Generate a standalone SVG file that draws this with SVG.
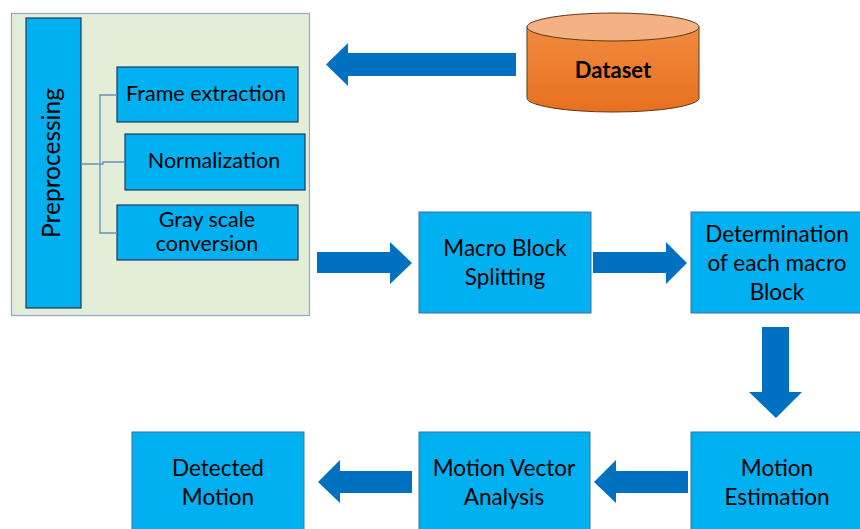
<svg xmlns="http://www.w3.org/2000/svg" width="860" height="529" viewBox="0 0 860 529">
  <defs>
    <linearGradient id="cylBody" x1="0" y1="0" x2="0" y2="1">
      <stop offset="0" stop-color="#F08A3E"/>
      <stop offset="1" stop-color="#E8701F"/>
    </linearGradient>
    <style>
      .box { fill: #00B0F0; stroke: #41719C; stroke-width: 1; }
      .dark { fill: #00B0F0; stroke: #1F3A5A; stroke-width: 1.2; }
      .lbl { font-family: Lato, "Liberation Sans", sans-serif; font-size: 22.5px; fill: #000; text-anchor: middle; }
      .sm { font-size: 21.5px; }
      .arrow { fill: #0070C0; }
      .tree { fill: none; stroke: #6A8FB8; stroke-width: 1.3; }
    </style>
  </defs>

  <rect width="860" height="529" fill="#FFFFFF"/>

  <!-- Preprocessing panel -->
  <g id="preprocessing">
    <rect x="11.5" y="13.5" width="298" height="302" fill="#E3EED9" stroke="#8EA9C9" stroke-width="1.2"/>
    <rect class="dark" x="26" y="18" width="55" height="290"/>
    <text class="lbl" transform="translate(60,163) rotate(-90)" style="font-size:24.5px">Preprocessing</text>
  </g>

  <g id="frame-extraction">
    <rect class="dark" x="117" y="67" width="181" height="55"/>
    <text class="lbl sm" x="206" y="101">Frame extraction</text>
  </g>

  <g id="normalization">
    <rect class="dark" x="125" y="134" width="180" height="56"/>
    <text class="lbl sm" x="214" y="168">Normalization</text>
  </g>

  <g id="gray-scale">
    <rect class="dark" x="117" y="205" width="181" height="55"/>
    <text class="lbl sm" x="207" y="227">Gray scale</text>
    <text class="lbl sm" x="207" y="251">conversion</text>
  </g>

  <!-- Dataset cylinder -->
  <g id="dataset">
    <path d="M527,27 L527,98 A86,14 0 0 0 699,98 L699,27 Z" fill="url(#cylBody)" stroke="#5A3A1A" stroke-width="1"/>
    <ellipse cx="613" cy="27" rx="86" ry="14" fill="#F4B183" stroke="#5A3A1A" stroke-width="1"/>
    <text x="613" y="78" text-anchor="middle" font-family="Lato, 'Liberation Sans', sans-serif" font-weight="bold" font-size="22" fill="#000">Dataset</text>
  </g>

  <g id="macro-block-splitting">
    <rect class="box" x="419" y="212" width="172" height="101"/>
    <text class="lbl" x="505" y="256">Macro Block</text>
    <text class="lbl" x="505" y="285">Splitting</text>
  </g>

  <g id="determination">
    <rect class="box" x="691" y="212" width="172" height="101"/>
    <text class="lbl" x="777" y="242">Determination</text>
    <text class="lbl" x="777" y="271">of each macro</text>
    <text class="lbl" x="777" y="300">Block</text>
  </g>

  <g id="motion-estimation">
    <rect class="box" x="691" y="432" width="172" height="101"/>
    <text class="lbl" x="777" y="476">Motion</text>
    <text class="lbl" x="777" y="505">Estimation</text>
  </g>

  <g id="motion-vector-analysis">
    <rect class="box" x="419" y="432" width="171" height="101"/>
    <text class="lbl" x="504" y="476">Motion Vector</text>
    <text class="lbl" x="504" y="505">Analysis</text>
  </g>

  <g id="detected-motion">
    <rect class="box" x="132" y="432" width="172" height="101"/>
    <text class="lbl" x="218" y="476">Detected</text>
    <text class="lbl" x="218" y="505">Motion</text>
  </g>

  <!-- Connectors -->
  <g id="connectors">
    <!-- tree from the preprocessing bar to its three steps -->
    <path class="tree" d="M81,164 H103 V162 H125 M100,164 V95 H117 M100,164 V233 H117"/>
    <!-- block arrows -->
    <polygon class="arrow" points="516,53 348,53 348,43 326,64.5 348,86 348,76 516,76"/>
    <polygon class="arrow" points="317,252 390,252 390,242 412,263 390,284 390,273 317,273"/>
    <polygon class="arrow" points="593,252 666,252 666,242 687,263 666,284 666,273 593,273"/>
    <polygon class="arrow" points="762,327 789,327 789,392 802,392 776,418 749,392 762,392"/>
    <polygon class="arrow" points="688,471 616,471 616,460 594,482 616,503 616,493 688,493"/>
    <polygon class="arrow" points="412,471 340,471 340,460 318,482 340,503 340,493 412,493"/>
  </g>
</svg>
